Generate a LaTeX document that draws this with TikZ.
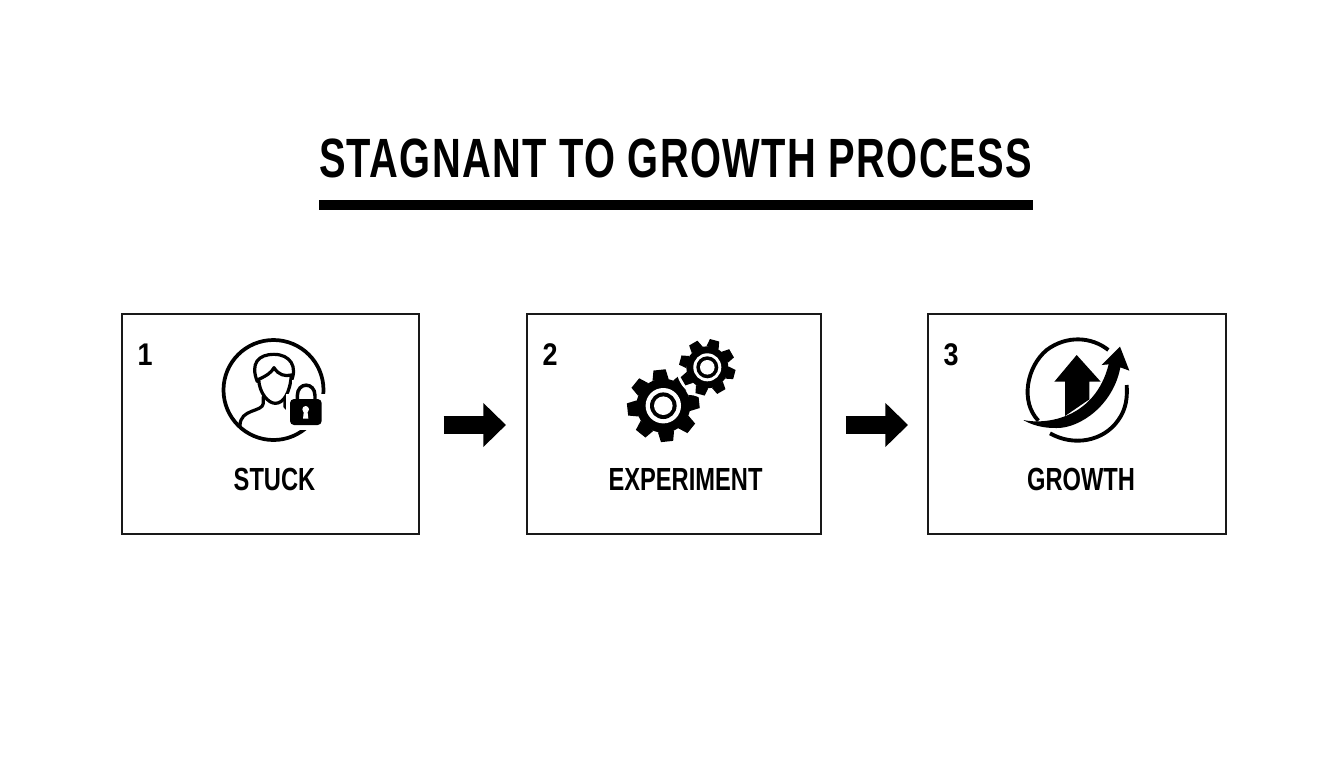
\documentclass[tikz,border=0pt]{standalone}
\usepackage{fontspec}
\setmainfont{Liberation Sans}[FakeStretch=0.74,BoldFont={Liberation Sans Bold}]
\newfontfamily\titlefont[FakeStretch=0.72,LetterSpace=2.5]{Liberation Sans Bold}
\newfontfamily\numfont[FakeStretch=0.86]{Liberation Sans Bold}
\usetikzlibrary{arrows.meta}
\tikzset{
  x=0.75pt,y=-0.75pt,
  stagebox/.style={draw=black!90,line width=1.5pt,fill=white,inner sep=0pt,outer sep=0pt,anchor=north west},
  flow/.style={line width=13pt,-{Triangle[length=17pt,width=32pt]}},
  numlabel/.style={font=\numfont\fontsize{23.5}{24}\selectfont,inner sep=0pt},
  stagelabel/.style={font=\bfseries\fontsize{24}{24}\selectfont,inner sep=0pt},
  zoomed/.style={x=0.25pt,y=-0.25pt},
  wline/.style={draw=black,line width=2.4pt,fill=none,line cap=round,line join=round},
}
\newcommand{\gearicon}[8]{% cx cy rout rroot rot ringout ringin core
  \begin{scope}[shift={(#1,#2)}]
    \fill[black] (0,0) circle (#4*0.75pt);
    \foreach \k in {0,...,7}{
      \fill[black,rotate=\k*45+#5]
        (-0.30*#4,-0.96*#4) -- (-0.17*#3,-#3) -- (0.17*#3,-#3) -- (0.30*#4,-0.96*#4) -- cycle;
    }
    \fill[white] (0,0) circle (#6*0.75pt);
    \fill[black] (0,0) circle (#7*0.75pt);
    \fill[white] (0,0) circle (#8*0.75pt);
  \end{scope}}
\begin{document}
\begin{tikzpicture}
\useasboundingbox (0,0) rectangle (1344,768);
\fill[white] (0,0) rectangle (1344,768);
% title
\node[inner sep=0pt,font=\titlefont\fontsize{41.5}{42}\selectfont] (title) at (675.5,158) {STAGNANT TO GROWTH PROCESS};
\fill[black] (319,199.5) rectangle (1032.5,209.5);
% boxes
\node[stagebox,minimum width=223.2pt,minimum height=165.2pt] (b1) at (121.5,313.5) {};
\node[stagebox,minimum width=221.2pt,minimum height=165.2pt] (b2) at (526.5,313.5) {};
\node[stagebox,minimum width=223.8pt,minimum height=165.2pt] (b3) at (927.5,313.5) {};
% arrows
\draw[flow,shorten <=18.4pt,shorten >=15.4pt] ([yshift=-1pt]b1.east) -- ([yshift=-1pt]b2.west);
\draw[flow,shorten <=18.4pt,shorten >=14.6pt] ([yshift=-1pt]b2.east) -- ([yshift=-1pt]b3.west);
% numbers
\node[numlabel] (n1) at (145,355) {1};
\node[numlabel] (n2) at (550,355) {2};
\node[numlabel] (n3) at (951,355) {3};
% labels
\node[stagelabel] (l1) at (274.5,479.5) {STUCK};
\node[stagelabel] (l2) at (685.5,479.5) {EXPERIMENT};
\node[stagelabel] (l3) at (1081,479.5) {GROWTH};
% person icon
\draw[black,line width=2.8pt] (273.5,390) circle (50*0.75pt);
\begin{scope}[shift={(200,325)},zoomed]
  \draw[wline] (172,170) .. controls (150,115) and (175,88) .. (222,88)
     .. controls (270,88) and (295,125) .. (272,172);
  \draw[wline] (176,163) .. controls (200,152) and (215,142) .. (222,128)
     .. controls (235,150) and (255,155) .. (274,150);
  \draw[wline] (176,163) .. controls (178,205) and (205,235) .. (226,235)
     .. controls (250,235) and (270,205) .. (274,150);
  \draw[wline] (190,215) -- (190,235) .. controls (188,262) and (120,250) .. (120,302);
  \draw[wline] (255,222) -- (255,245) -- (268,258);
  % lock
  \fill[white] (258,208) rectangle (382,314);
  \fill[white] (276,165) rectangle (360,208);
  \draw[black,line width=2.6pt] (292,225) -- (292,212) .. controls (292,170) and (345,170) .. (345,212) -- (345,225);
  \fill[black,rounded corners=3pt] (270,222) rectangle (365,300);
  \fill[white] (317,253) circle (10*0.25pt);
  \fill[white] (312,255) -- (322,255) -- (325,281) -- (309,281) -- cycle;
\end{scope}
% gears
\gearicon{663.3}{405.7}{36}{27}{6}{17.7}{13.3}{9.3}
\fill[white] (707.3,367.3) circle (31*0.75pt);
\gearicon{707.3}{367.3}{28}{21}{-15}{14}{11}{7.3}
% growth icon
\begin{scope}[shift={(1010,330)},zoomed]
  \draw[black,line width=2.9pt] (85,272) .. controls (30,215) and (50,110) .. (110,60)
     .. controls (170,15) and (245,20) .. (295,60);
  \draw[black,line width=2.9pt] (120,310) .. controls (190,350) and (280,335) .. (325,270)
     .. controls (350,235) and (352,200) .. (350,165);
  \fill[black] (200,75) -- (272,155) -- (238,155) -- (238,208) -- (165,258) -- (165,155) -- (133,155) -- cycle;
  \fill[black] (40,270) .. controls (110,285) and (255,265) .. (296,103)
     -- (275,105) -- (330,50) -- (358,122) -- (331,112)
     .. controls (310,225) and (210,295) .. (140,294)
     .. controls (100,295) and (65,285) .. (40,270) -- cycle;
\end{scope}
\end{tikzpicture}
\end{document}
